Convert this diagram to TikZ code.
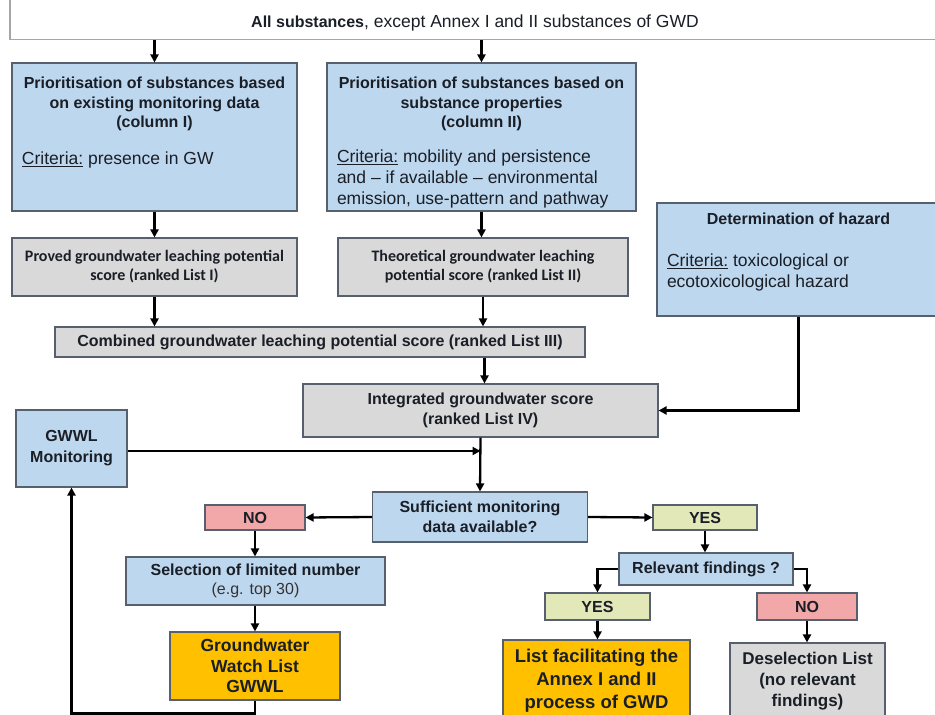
\documentclass[tikz,border=0pt]{standalone}
\usepackage{fontspec}
\setmainfont{Liberation Sans}
\newfontfamily\calib{Carlito}
\usetikzlibrary{arrows.meta}
\definecolor{bluefill}{HTML}{BDD7EE}
\definecolor{grayfill}{HTML}{D9D9D9}
\definecolor{pinkfill}{HTML}{F2A8A8}
\definecolor{greenfill}{HTML}{E3E8B9}
\definecolor{orangefill}{HTML}{FFC000}
\definecolor{edge}{HTML}{56606E}
\definecolor{ink}{HTML}{1A1E26}
\newcommand\setfs[2]{\fontsize{#1bp}{#2bp}\selectfont}
\begin{document}
\begin{tikzpicture}[x=1bp,y=-1bp,
  box/.style={draw=edge, line width=1.1bp, inner sep=0pt, align=center, text=ink, font=\setfs{16}{19.5}\bfseries},
  wh/.style 2 args={minimum width=#1bp, minimum height=#2bp},
  blue/.style={box, fill=bluefill},
  grey/.style={box, fill=grayfill},
  pink/.style={box, fill=pinkfill},
  green/.style={box, fill=greenfill},
  orange/.style={box, fill=orangefill},
  arr/.style={line width=2.3bp, -{Triangle[length=8bp,width=8bp]}},
]
\useasboundingbox (0,0) rectangle (935,715);
\clip (0,0) rectangle (935,715);
\fill[white] (0,0) rectangle (935,715);

\node[box, fill=white, draw=gray!70, anchor=south, minimum width=930bp, text height=38bp, text depth=12bp, font=\setfs{17.5}{20}] (all) at (475,40)
  {{\bfseries\setfs{16}{20}All substances}, except Annex I and II substances of GWD};

\node[blue, wh={285}{148}] (colI) at (154.5,137)
  {\parbox[c][120bp][t]{265bp}{\centering\setfs{16}{19.5}\bfseries Prioritisation of substances based\\on existing monitoring data\\(column I)\par
   \vspace{16bp}\raggedright\setfs{17.5}{21}\mdseries\underline{Criteria:} presence in GW\par}};

\node[blue, wh={309}{148}] (colII) at (481.5,137)
  {\parbox[c][120bp][t]{289bp}{\centering\setfs{16}{19.5}\bfseries Prioritisation of substances based on\\substance properties\\(column II)\par
   \vspace{14bp}\raggedright\setfs{17.5}{21}\mdseries\underline{Criteria:} mobility and persistence\\and -- if available -- environmental\\emission, use-pattern and pathway\par}};

\node[blue, wh={283}{113}] (hazard) at (798.5,259.5)
  {\parbox[c][93bp][t]{263bp}{\centering\setfs{16}{19.5}\bfseries Determination of hazard\par
   \vspace{21bp}\raggedright\setfs{17.5}{21}\mdseries\underline{Criteria:} toxicological or\\ecotoxicological hazard\par}};

\node[grey, wh={285}{58}, font=\calib\bfseries\setfs{16}{19}] (listI) at (154.5,267)
  {Proved groundwater leaching potential\\score (ranked List I)};
\node[grey, wh={290}{58}, font=\calib\bfseries\setfs{16}{19}] (listII) at (483,267)
  {Theoretical groundwater leaching\\potential score (ranked List II)};

\node[grey, wh={530}{30}] (comb) at (320,342)
  {Combined groundwater leaching potential score (ranked List III)};
\node[grey, wh={355}{53}] (integ) at (480.5,410.5)
  {Integrated groundwater score\\(ranked List IV)};

\node[blue, wh={111}{77}, font=\setfs{16}{21}\bfseries] (mon) at (71.5,448.5) {GWWL\\Monitoring};
\node[blue, wh={215}{50}] (suff) at (480,517) {Sufficient monitoring\\data available?};
\node[pink, wh={100}{25}] (no1) at (255,517.5) {NO};
\node[green, wh={104}{25}] (yes1) at (705,517.5) {YES};
\node[blue, wh={259}{48}, font=\setfs{16}{19}\bfseries] (sel) at (255.5,581)
  {Selection of limited number\\{\mdseries\color{black!80}(e.g. top 30)}};
\node[orange, wh={170}{68}, font=\setfs{17.5}{20.5}\bfseries] (gwwl) at (255,666)
  {Groundwater\\Watch List\\GWWL};
\node[blue, wh={174}{32}] (rel) at (706,569) {Relevant findings ?};
\node[green, wh={105}{27}] (yes2) at (597.5,606.5) {YES};
\node[pink, wh={100}{27}] (no2) at (807,606.5) {NO};
\node[orange, wh={187}{82}, font=\setfs{18.5}{23}\bfseries] (list) at (596.5,681)
  {List facilitating the\\Annex I and II\\process of GWD};
\node[grey, wh={155}{76}, font=\setfs{17}{21}\bfseries] (desel) at (807.5,681)
  {Deselection List\\(no relevant\\findings)};

\draw[arr] (all.south -| colI.north) -- (colI.north);
\draw[arr] (all.south -| colII.north) -- (colII.north);
\draw[arr] (colI.south) -- (listI.north);
\draw[arr] (colII.south) -- (colII.south |- listII.north);
\draw[arr] (listI.south) -- (listI.south |- comb.north);
\draw[arr] (listII.south) -- (listII.south |- comb.north);
\draw[arr] ([xshift=4bp]integ.north |- comb.south) -- ([xshift=4bp]integ.north);
\draw[arr] (hazard.south) |- (integ.east);
\draw[arr] (integ.south) -- (suff.north);
\draw[arr] ([yshift=-2.5bp]mon.east) -- ([yshift=-2.5bp]mon.east -| integ.south);
\draw[arr] (suff.west) -- (no1.east);
\draw[arr] (suff.east) -- (yes1.west);
\draw[arr] (no1.south) -- (no1.south |- sel.north);
\draw[arr] (gwwl.north |- sel.south) -- (gwwl.north);
\draw[arr] (gwwl.south) -- ++(0,13) -| (mon.south);
\draw[arr] (yes1.south) -- (yes1.south |- rel.north);
\draw[arr] (rel.west) -| (yes2.north);
\draw[arr] (rel.east) -| (no2.north);
\draw[arr] (yes2.south) -- (yes2.south |- list.north);
\draw[arr] (no2.south) -- (no2.south |- desel.north);
\end{tikzpicture}
\end{document}
